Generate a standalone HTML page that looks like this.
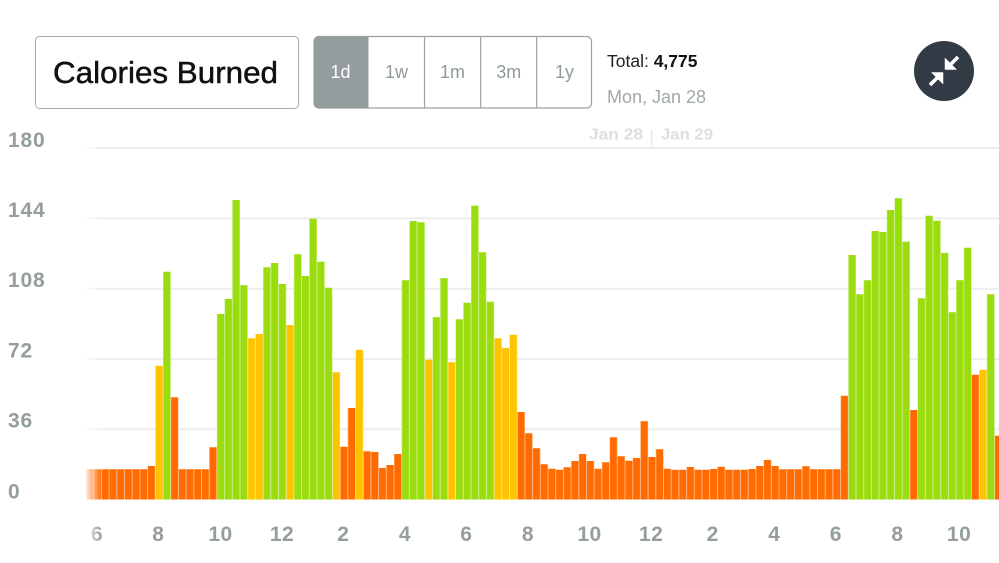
<!DOCTYPE html>
<html><head><meta charset="utf-8"><style>
html,body{margin:0;padding:0;background:#fff;width:999px;height:563px;overflow:hidden}
svg{display:block}
text{font-family:"Liberation Sans",Arial,sans-serif}
</style></head><body>
<svg width="999" height="563" viewBox="0 0 999 563" xmlns="http://www.w3.org/2000/svg">
<defs>
<linearGradient id="fade" x1="0" x2="1" y1="0" y2="0">
<stop offset="0" stop-color="#fff" stop-opacity="1"/>
<stop offset="1" stop-color="#fff" stop-opacity="0"/>
</linearGradient>
<clipPath id="cp"><rect x="84" y="0" width="915" height="499.5"/></clipPath>
<pattern id="sep" patternUnits="userSpaceOnUse" x="85.5" y="0" width="7.7" height="600">
<rect x="0" y="0" width="1" height="600" fill="#fff" fill-opacity="0.5"/>
</pattern>
<path id="po" d="M86,500V469.3h61.6V500z M147.6,500V466h7.7V500z M170.7,500V397.3h7.7V500z M178.4,500V469.3h30.8V500z M209.2,500V447.3h7.7V500z M340.1,500V446.7h7.7V500z M347.8,500V408h7.7V500z M363.2,500V451.3H370.9V452H378.6V468H386.3V465H394V454H401.7V500z M517.2,500V412H524.9V433.3H532.6V448.3H540.3V464.3H548V468.7H555.7V469.7H563.4V467.3H571.1V461H578.8V454H586.5V461H594.2V468.7H601.9V462.3H609.6V437.3H617.3V456.3H625V460.7H632.7V458H640.4V421.3H648.1V457H655.8V449.3H663.5V468.7H671.2V469.7H686.6V467H694.3V469.7H709.7V469H717.4V466.7H725.1V469.7H748.2V469H755.9V466H763.6V460H771.3V466H779V469.3H802.1V466.3H809.8V469.3H840.6V395.7H848.3V500z M909.9,500V410h7.7V500z M971.5,500V374.7h7.7V500z M994.6,500V435.7h7.7V500z"/>
<path id="py" d="M155.3,500V365.7h7.7V500z M247.7,500V338.3H255.4V334H263.1V500z M286.2,500V325h7.7V500z M332.4,500V372.3h7.7V500z M355.5,500V349.7h7.7V500z M424.8,500V359.7h7.7V500z M447.9,500V362.3h7.7V500z M494.1,500V338.3H501.8V348H509.5V334.7H517.2V500z M979.2,500V369.7h7.7V500z"/>
<path id="pg" d="M163,500V271.7h7.7V500z M216.9,500V314H224.6V299H232.3V200H240V285.3H247.7V500z M263.1,500V267.3H270.8V263H278.5V284H286.2V500z M293.9,500V254.3H301.6V276H309.3V218.7H317V261.7H324.7V287.7H332.4V500z M401.7,500V280.3H409.4V221H417.1V222.3H424.8V500z M432.5,500V317.3H440.2V278.3H447.9V500z M455.6,500V319.3H463.3V302.7H471V205.7H478.7V252.3H486.4V301.7H494.1V500z M848.3,500V255H856V294.3H863.7V280.3H871.4V231H879.1V232H886.8V210H894.5V198.3H902.2V241.7H909.9V500z M917.6,500V298.3H925.3V215.7H933V220.7H940.7V253H948.4V312.3H956.1V280.3H963.8V247.7H971.5V500z M986.9,500V294.3h7.7V500z"/>
<clipPath id="bars"><use href="#po"/><use href="#py"/><use href="#pg"/></clipPath>
</defs>

<rect x="35.5" y="36.5" width="263" height="72" rx="4" fill="#fff" stroke="#a3abac" stroke-width="1"/>
<text x="53" y="83" font-size="30.5" fill="#111" stroke="#111" stroke-width="0.5" textLength="225" lengthAdjust="spacingAndGlyphs">Calories Burned</text>

<rect x="314" y="36.5" width="277.5" height="71.5" rx="5" fill="#fff" stroke="#9aa3a4" stroke-width="1.2"/>
<path d="M319 36.5 H368.5 V108 H319 a5 5 0 0 1 -5 -5 V41.5 a5 5 0 0 1 5 -5 Z" fill="#959d9e"/>
<path d="M424.5 36.5V108M480.7 36.5V108M536.7 36.5V108" stroke="#9aa3a4" stroke-width="1.2"/>
<g font-size="18" text-anchor="middle" fill="#8f9a9b">
<text x="340.5" y="78" fill="#fff">1d</text>
<text x="396.5" y="78">1w</text>
<text x="452.5" y="78">1m</text>
<text x="508.7" y="78">3m</text>
<text x="564.5" y="78">1y</text>
</g>

<text x="607" y="67" font-size="17.5" fill="#222">Total: <tspan font-weight="bold" fill="#111">4,775</tspan></text>
<text x="607" y="103" font-size="18" fill="#a0a8a9">Mon, Jan 28</text>

<circle cx="944" cy="71" r="30" fill="#323a45"/>
<g fill="#fff" stroke="#fff">
<path d="M958 57L949 66M930 85L939 76" stroke-width="3.6"/>
<polygon points="945,58 945,69.5 956.5,69.5" stroke-width="0.5"/>
<polygon points="943,84 943,72.5 931.5,72.5" stroke-width="0.5"/>
</g>

<text x="589" y="139.5" font-size="16" fill="#dcdfdf" font-weight="bold" textLength="54" lengthAdjust="spacingAndGlyphs">Jan 28</text>
<line x1="651.7" y1="130" x2="651.7" y2="148" stroke="#dcdfdf" stroke-width="1"/>
<text x="661" y="139.5" font-size="16" fill="#dcdfdf" font-weight="bold" textLength="52" lengthAdjust="spacingAndGlyphs">Jan 29</text>

<path d="M85 148H999M85 218.3H999M85 288.7H999M85 359H999M85 429.3H999" stroke="#ededed" stroke-width="2"/>

<g font-size="21" font-weight="bold" fill="#949e9f" letter-spacing="0.8">
<text x="8" y="147">180</text>
<text x="8" y="217">144</text>
<text x="8" y="287">108</text>
<text x="8" y="357.5">72</text>
<text x="8" y="427.5">36</text>
<text x="8" y="498.5">0</text>
</g>

<g clip-path="url(#cp)">
<use href="#po" fill="#ff6b00"/>
<use href="#py" fill="#ffc400"/>
<use href="#pg" fill="#9bdc0f"/>
<rect x="84" y="140" width="915" height="360" fill="url(#sep)" clip-path="url(#bars)"/>
</g>

<g font-size="21" font-weight="bold" fill="#949e9f" text-anchor="middle" letter-spacing="0.5">
<text x="97" y="541">6</text>
<text x="158.3" y="541">8</text>
<text x="220.5" y="541">10</text>
<text x="282" y="541">12</text>
<text x="343.3" y="541">2</text>
<text x="405" y="541">4</text>
<text x="466.3" y="541">6</text>
<text x="528" y="541">8</text>
<text x="589.5" y="541">10</text>
<text x="651.1" y="541">12</text>
<text x="712.7" y="541">2</text>
<text x="774.3" y="541">4</text>
<text x="835.9" y="541">6</text>
<text x="897.5" y="541">8</text>
<text x="959.1" y="541">10</text>
</g>

<rect x="83" y="140" width="19" height="410" fill="url(#fade)"/>
</svg>
</body></html>
